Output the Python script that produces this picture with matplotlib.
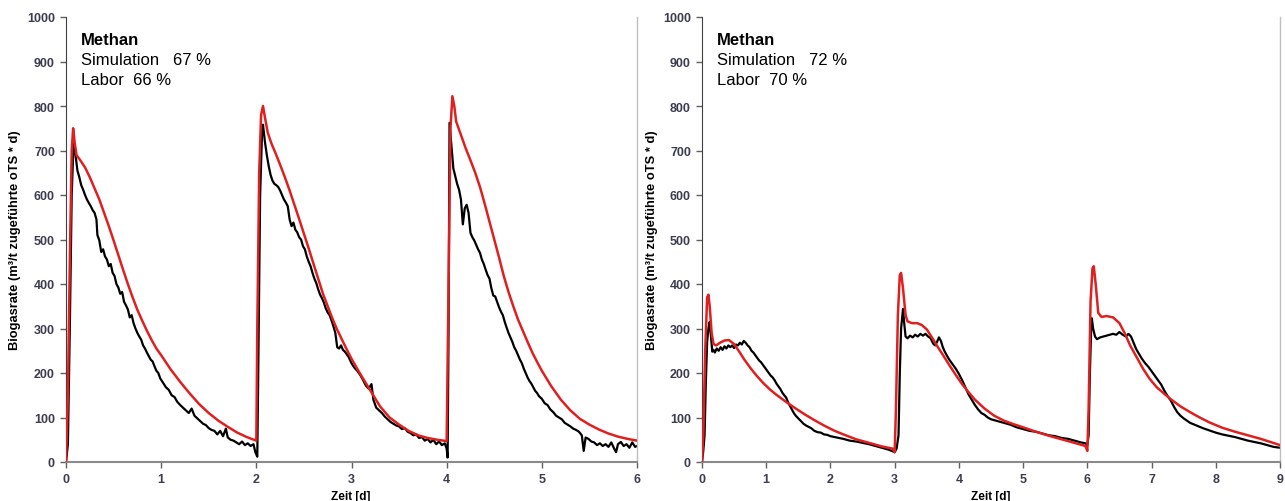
import numpy as np
import matplotlib
matplotlib.use("Agg")
import matplotlib.pyplot as plt

plt.rcParams['font.family'] = ['Liberation Sans', 'DejaVu Sans']

# ---- left panel (6 days): (t [d], rate) ----
left_black = [
    (0.00, 0), (0.02, 40), (0.04, 300), (0.06, 600), (0.08, 720), (0.10, 690), (0.12, 655),
    (0.14, 640), (0.16, 622), (0.18, 612), (0.20, 600), (0.22, 590), (0.24, 582), (0.26, 575),
    (0.28, 566), (0.30, 560), (0.32, 545), (0.33, 510), (0.35, 498), (0.37, 472), (0.39, 478),
    (0.41, 462), (0.43, 455), (0.45, 440), (0.47, 445), (0.49, 425), (0.51, 418), (0.53, 400),
    (0.55, 392), (0.57, 378), (0.59, 382), (0.61, 360), (0.63, 352), (0.65, 343), (0.67, 325),
    (0.69, 330), (0.71, 312), (0.73, 300), (0.75, 290), (0.77, 282), (0.79, 275), (0.81, 262),
    (0.83, 255), (0.85, 246), (0.87, 238), (0.89, 230), (0.91, 226), (0.93, 215), (0.95, 205),
    (0.97, 200), (0.99, 188), (1.02, 178), (1.05, 168), (1.08, 162), (1.11, 150), (1.14, 146),
    (1.17, 135), (1.20, 128), (1.23, 122), (1.26, 116), (1.29, 110), (1.32, 120), (1.35, 104),
    (1.38, 98), (1.41, 92), (1.44, 86), (1.47, 83), (1.50, 76), (1.53, 72), (1.56, 70),
    (1.59, 62), (1.62, 70), (1.65, 58), (1.68, 75), (1.70, 55), (1.73, 50), (1.76, 48),
    (1.79, 44), (1.82, 40), (1.85, 46), (1.88, 38), (1.91, 42), (1.94, 36), (1.97, 40),
    (1.99, 22), (2.01, 12),
    (2.02, 200), (2.04, 600), (2.06, 740), (2.07, 758), (2.09, 720), (2.11, 690), (2.13, 665),
    (2.15, 645), (2.17, 632), (2.19, 625), (2.21, 622), (2.23, 618), (2.25, 610), (2.27, 600),
    (2.29, 590), (2.31, 583), (2.33, 575), (2.35, 545), (2.37, 530), (2.39, 538), (2.41, 522),
    (2.43, 516), (2.45, 505), (2.47, 500), (2.49, 485), (2.51, 478), (2.53, 462), (2.55, 450),
    (2.57, 440), (2.59, 425), (2.61, 412), (2.63, 402), (2.65, 388), (2.67, 376), (2.69, 368),
    (2.71, 358), (2.73, 345), (2.75, 336), (2.77, 330), (2.79, 318), (2.81, 305), (2.83, 290),
    (2.85, 258), (2.87, 255), (2.89, 262), (2.91, 252), (2.93, 248), (2.95, 242), (2.97, 236),
    (3.00, 222), (3.03, 212), (3.06, 205), (3.09, 196), (3.12, 185), (3.15, 172), (3.18, 165),
    (3.21, 175), (3.23, 140), (3.26, 122), (3.29, 116), (3.32, 110), (3.35, 102), (3.38, 96),
    (3.41, 90), (3.44, 86), (3.47, 82), (3.50, 80), (3.53, 74), (3.56, 76), (3.59, 68),
    (3.62, 65), (3.65, 60), (3.68, 62), (3.71, 54), (3.74, 56), (3.77, 48), (3.80, 52),
    (3.83, 44), (3.86, 50), (3.89, 40), (3.92, 46), (3.95, 38), (3.98, 42), (4.00, 30),
    (4.01, 10),
    (4.02, 300), (4.03, 762), (4.05, 710), (4.07, 660), (4.09, 642), (4.11, 625), (4.13, 612),
    (4.15, 590), (4.17, 534), (4.19, 570), (4.21, 578), (4.23, 560), (4.25, 515), (4.27, 505),
    (4.29, 498), (4.31, 488), (4.33, 478), (4.35, 470), (4.37, 455), (4.39, 445), (4.41, 432),
    (4.43, 420), (4.45, 412), (4.47, 390), (4.49, 374), (4.51, 372), (4.53, 360), (4.55, 348),
    (4.57, 338), (4.59, 330), (4.61, 315), (4.63, 302), (4.65, 290), (4.67, 280), (4.69, 270),
    (4.71, 258), (4.73, 250), (4.75, 240), (4.77, 230), (4.79, 222), (4.81, 210), (4.83, 200),
    (4.85, 190), (4.87, 182), (4.89, 176), (4.91, 168), (4.93, 160), (4.95, 155), (4.97, 148),
    (5.00, 142), (5.03, 132), (5.06, 128), (5.09, 118), (5.12, 112), (5.15, 104), (5.18, 100),
    (5.21, 96), (5.24, 88), (5.27, 84), (5.30, 80), (5.33, 75), (5.36, 72), (5.39, 68),
    (5.42, 60), (5.44, 25), (5.46, 55), (5.49, 52), (5.52, 46), (5.55, 44), (5.58, 38),
    (5.61, 42), (5.64, 36), (5.67, 40), (5.70, 34), (5.73, 44), (5.76, 30), (5.78, 22),
    (5.80, 40), (5.83, 45), (5.86, 36), (5.89, 40), (5.92, 32), (5.95, 44), (5.98, 34),
    (6.00, 36),
]

left_red = [
    (0.00, 0), (0.02, 150), (0.04, 450), (0.06, 700), (0.075, 750), (0.09, 720), (0.11, 690),
    (0.15, 678), (0.20, 662), (0.25, 640), (0.30, 615), (0.35, 590), (0.40, 560), (0.45, 530),
    (0.50, 498), (0.55, 465), (0.60, 432), (0.65, 400), (0.70, 370), (0.75, 342), (0.80, 318),
    (0.85, 295), (0.90, 274), (0.95, 255), (1.00, 240), (1.10, 208), (1.20, 180), (1.30, 154),
    (1.40, 130), (1.50, 110), (1.60, 93), (1.70, 79), (1.80, 66), (1.90, 56), (2.00, 48),
    (2.01, 300), (2.03, 650), (2.05, 780), (2.07, 800), (2.09, 775), (2.12, 740), (2.16, 715),
    (2.20, 695), (2.25, 668), (2.30, 640), (2.35, 610), (2.40, 578), (2.45, 546), (2.50, 513),
    (2.55, 480), (2.60, 446), (2.65, 412), (2.70, 378), (2.75, 350), (2.80, 322), (2.85, 297),
    (2.90, 275), (2.95, 253), (3.00, 232), (3.10, 195), (3.20, 160), (3.30, 125), (3.40, 100),
    (3.50, 84), (3.60, 70), (3.70, 60), (3.80, 54), (3.90, 50), (4.00, 47),
    (4.02, 400), (4.04, 750), (4.06, 822), (4.08, 800), (4.10, 765), (4.15, 735), (4.20, 705),
    (4.25, 678), (4.30, 650), (4.35, 618), (4.40, 580), (4.45, 540), (4.50, 500), (4.55, 460),
    (4.60, 418), (4.65, 382), (4.70, 350), (4.75, 320), (4.80, 295), (4.85, 270), (4.90, 246),
    (4.95, 225), (5.00, 205), (5.10, 170), (5.20, 140), (5.30, 116), (5.40, 97), (5.50, 84),
    (5.60, 73), (5.70, 64), (5.80, 57), (5.90, 52), (6.00, 48),
]

# ---- right panel (9 days) ----
right_black = [
    (0.00, 0), (0.02, 25), (0.04, 60), (0.06, 180), (0.08, 270), (0.10, 300), (0.12, 315),
    (0.14, 280), (0.16, 248), (0.18, 252), (0.20, 246), (0.23, 255), (0.26, 250), (0.29, 258),
    (0.32, 252), (0.35, 260), (0.38, 255), (0.41, 262), (0.44, 258), (0.47, 262), (0.50, 256),
    (0.53, 264), (0.56, 262), (0.59, 268), (0.62, 264), (0.65, 272), (0.68, 268), (0.71, 262),
    (0.74, 258), (0.77, 250), (0.80, 246), (0.83, 240), (0.86, 234), (0.89, 228), (0.92, 224),
    (0.95, 218), (0.98, 212), (1.01, 206), (1.04, 200), (1.07, 194), (1.10, 190), (1.13, 184),
    (1.16, 176), (1.19, 170), (1.22, 164), (1.25, 156), (1.28, 150), (1.31, 145), (1.34, 134),
    (1.37, 126), (1.40, 118), (1.43, 110), (1.46, 104), (1.50, 98), (1.54, 92), (1.58, 86),
    (1.62, 82), (1.66, 79), (1.70, 76), (1.75, 70), (1.80, 67), (1.85, 66), (1.90, 62),
    (1.95, 61), (2.00, 58), (2.10, 55), (2.20, 52), (2.30, 48), (2.40, 46), (2.50, 43),
    (2.60, 40), (2.70, 36), (2.80, 32), (2.90, 28), (2.97, 24), (3.00, 22),
    (3.03, 30), (3.06, 60), (3.08, 200), (3.10, 300), (3.13, 344), (3.15, 310), (3.17, 282),
    (3.20, 278), (3.24, 284), (3.28, 280), (3.32, 286), (3.36, 282), (3.40, 288), (3.44, 284),
    (3.48, 288), (3.52, 282), (3.56, 278), (3.60, 266), (3.63, 262), (3.66, 270), (3.69, 280),
    (3.72, 272), (3.75, 258), (3.78, 248), (3.81, 240), (3.85, 230), (3.90, 220), (3.95, 210),
    (4.00, 198), (4.05, 184), (4.10, 168), (4.15, 152), (4.20, 140), (4.25, 128), (4.30, 118),
    (4.35, 110), (4.40, 106), (4.45, 100), (4.50, 96), (4.55, 94), (4.60, 92), (4.70, 88),
    (4.80, 84), (4.90, 78), (5.00, 74), (5.10, 70), (5.20, 68), (5.30, 64), (5.40, 60),
    (5.50, 58), (5.60, 54), (5.70, 52), (5.80, 48), (5.90, 44), (5.97, 42), (6.00, 38),
    (6.02, 60), (6.04, 200), (6.06, 300), (6.07, 323), (6.09, 300), (6.12, 282), (6.15, 276),
    (6.20, 280), (6.25, 282), (6.30, 284), (6.35, 286), (6.40, 288), (6.45, 286), (6.50, 292),
    (6.55, 286), (6.60, 282), (6.64, 288), (6.68, 282), (6.72, 268), (6.76, 254), (6.80, 244),
    (6.85, 232), (6.90, 222), (6.95, 214), (7.00, 204), (7.05, 194), (7.10, 184), (7.15, 174),
    (7.20, 160), (7.25, 148), (7.30, 138), (7.35, 124), (7.40, 112), (7.45, 104), (7.50, 98),
    (7.55, 93), (7.60, 88), (7.70, 82), (7.80, 76), (7.90, 71), (8.00, 66), (8.10, 62),
    (8.20, 59), (8.30, 56), (8.40, 52), (8.50, 48), (8.60, 45), (8.70, 42), (8.80, 38),
    (8.90, 34), (9.00, 32),
]

right_red = [
    (0.00, 0), (0.02, 60), (0.05, 250), (0.08, 370), (0.10, 376), (0.12, 350), (0.15, 290),
    (0.18, 265), (0.22, 262), (0.28, 268), (0.35, 273), (0.42, 274), (0.50, 265), (0.58, 248),
    (0.66, 230), (0.75, 212), (0.85, 194), (0.95, 178), (1.05, 164), (1.15, 152), (1.30, 136),
    (1.45, 121), (1.60, 107), (1.75, 94), (1.90, 82), (2.05, 71), (2.20, 62), (2.40, 51),
    (2.60, 43), (2.80, 35), (2.97, 30), (3.00, 22),
    (3.02, 120), (3.05, 330), (3.08, 420), (3.10, 425), (3.13, 390), (3.17, 330), (3.20, 316),
    (3.27, 312), (3.35, 312), (3.42, 308), (3.50, 298), (3.58, 280), (3.66, 261), (3.75, 241),
    (3.85, 218), (3.95, 196), (4.05, 175), (4.15, 157), (4.25, 140), (4.40, 120), (4.55, 104),
    (4.70, 93), (4.85, 85), (5.00, 78), (5.20, 68), (5.40, 59), (5.60, 51), (5.80, 43),
    (5.97, 36), (6.00, 25),
    (6.02, 120), (6.05, 360), (6.08, 435), (6.10, 440), (6.13, 400), (6.17, 335), (6.22, 326),
    (6.30, 328), (6.40, 325), (6.50, 312), (6.58, 290), (6.67, 261), (6.77, 235), (6.87, 209),
    (6.97, 187), (7.08, 168), (7.20, 153), (7.30, 141), (7.45, 125), (7.60, 112), (7.75, 100),
    (7.90, 89), (8.10, 77), (8.30, 68), (8.50, 60), (8.70, 52), (8.85, 45), (9.00, 38),
]

left_text = ["Simulation   67 %", "Labor  66 %"]
right_text = ["Simulation   72 %", "Labor  70 %"]
y_ticks = list(range(0, 1001, 100))

tick_color = '#3c3c50'
ylabel = "Biogasrate (m³/t zugeführte oTS * d)"

fig = plt.figure(figsize=(12.85, 5.02), dpi=100)
ax1 = fig.add_axes([66/1285, 1-463/502, 571/1285, 445/502])
ax2 = fig.add_axes([702/1285, 1-463/502, 578/1285, 445/502])


def style(ax, xmax, lines):
    ax.set_xlim(0, xmax)
    ax.set_ylim(0, 1000)
    ax.set_xticks(range(0, xmax + 1))
    ax.set_yticks(y_ticks)
    ax.spines['top'].set_visible(False)
    ax.spines['right'].set_color('#c0c0c0')
    ax.spines['right'].set_linewidth(1.0)
    ax.spines['left'].set_color('#404040')
    ax.spines['bottom'].set_color('#8a8a8a')
    ax.spines['bottom'].set_linewidth(1.5)
    ax.tick_params(axis='both', direction='out', length=4, width=1, color='#606060',
                   labelsize=9, labelcolor=tick_color, pad=4)
    for lab in ax.get_xticklabels() + ax.get_yticklabels():
        lab.set_fontweight('bold')
    ax.text(0.026, 0.95, "Methan", transform=ax.transAxes, fontsize=12,
            fontweight='bold', va='center', ha='left')
    ax.text(0.026, 0.905, lines[0], transform=ax.transAxes, fontsize=12,
            va='center', ha='left')
    ax.text(0.026, 0.86, lines[1], transform=ax.transAxes, fontsize=12,
            va='center', ha='left')


for ax, blk, red in [(ax1, left_black, left_red), (ax2, right_black, right_red)]:
    bt, bv = np.array(blk).T
    rt, rv = np.array(red).T
    ax.plot(bt, bv, color='black', lw=1.6, zorder=2)
    ax.plot(rt, rv, color='#e02020', lw=1.8, zorder=3)

style(ax1, 6, left_text)
style(ax2, 9, right_text)

fig.text(15/1285, 1-240/502, ylabel, rotation=90, fontsize=9.3, fontweight='bold',
         ha='center', va='center')
fig.text(652/1285, 1-240/502, ylabel, rotation=90, fontsize=9.3, fontweight='bold',
         ha='center', va='center')
fig.text(351/1285, 1-497/502, "Zeit [d]", fontsize=8.5, fontweight='bold',
         ha='center', va='center')
fig.text(991/1285, 1-497/502, "Zeit [d]", fontsize=8.5, fontweight='bold',
         ha='center', va='center')

fig.savefig("out.png", dpi=100)
